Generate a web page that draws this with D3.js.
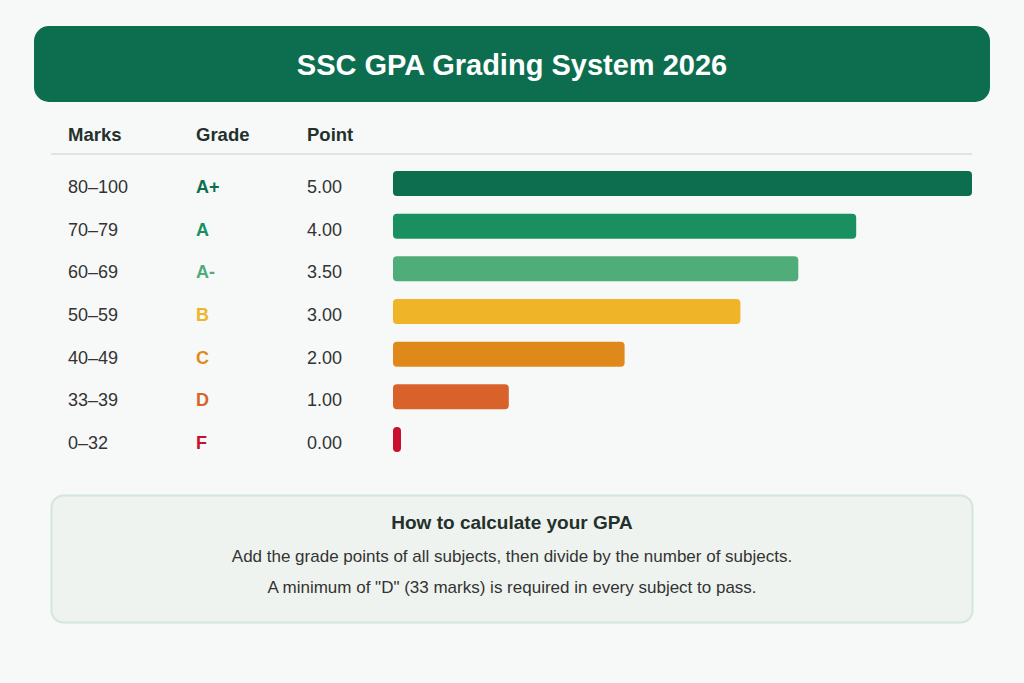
<!doctype html>
<html>
<head>
<script src="https://d3js.org/d3.v7.min.js"></script>
<style>
body { margin: 0; background: #f7f9f8; }
svg { display: block; font-family: "Liberation Sans", Arial, sans-serif; }
</style>
</head>
<body>
<script type="text/javascript">
var width = 1024;
var height = 683;

// table data
var marks = ["80–100", "70–79", "60–69", "50–59", "40–49", "33–39", "0–32"];
var grades = ["A+", "A", "A-", "B", "C", "D", "F"];
var points = [5.00, 4.00, 3.50, 3.00, 2.00, 1.00, 0.00];
var colors = ["#0d6e4f", "#1a9060", "#4fad7a", "#f0b429", "#e0891b", "#d9622b", "#c8102e"];
var headers = ["Marks", "Grade", "Point"];
var notes = ["Add the grade points of all subjects, then divide by the number of subjects.",
             "A minimum of \"D\" (33 marks) is required in every subject to pass."];

var rows = marks.map(function (m, i) {
    return {marks: m, grade: grades[i], point: points[i], color: colors[i]};
});

var svg = d3.select("body").append("svg")
    .attr("width", width)
    .attr("height", height);

svg.append("rect")
    .attr("width", width).attr("height", height)
    .attr("fill", "#f7f9f8");

// title banner
svg.append("rect")
    .attr("x", 34).attr("y", 26)
    .attr("width", 956).attr("height", 76)
    .attr("rx", 15)
    .attr("fill", "#0d6e4f");

svg.append("text")
    .attr("x", 512).attr("y", 75)
    .attr("text-anchor", "middle")
    .attr("fill", "#fff")
    .attr("font-size", 29)
    .attr("font-weight", "bold")
    .text("SSC GPA Grading System 2026");

// column headers
var colX = [68, 196, 307];
svg.selectAll(".head")
    .data(headers)
    .enter()
    .append("text")
    .attr("x", function (d, i) { return colX[i]; })
    .attr("y", 141)
    .attr("font-size", 18.5)
    .attr("font-weight", "bold")
    .attr("fill", "#24302b")
    .text(function (d) { return d; });

svg.append("line")
    .attr("x1", 51).attr("x2", 972)
    .attr("y1", 154).attr("y2", 154)
    .attr("stroke", "#dde5e1")
    .attr("stroke-width", 2);

// scales
var x = d3.scaleLinear().domain([0, 5]).range([393, 972]);
var y = d3.scaleBand().domain(marks).range([171, 452])
    .paddingInner(0.414).paddingOuter(0);

var row = svg.selectAll(".row")
    .data(rows)
    .enter()
    .append("g")
    .attr("transform", function (d) { return "translate(0," + y(d.marks) + ")"; });

var bh = y.bandwidth();

row.append("rect")
    .attr("x", x(0))
    .attr("y", 0)
    .attr("height", bh)
    .attr("width", function (d) { return Math.max(8, x(d.point) - x(0)); })
    .attr("rx", 4)
    .attr("fill", function (d) { return d.color; });

row.append("text")
    .attr("x", colX[0]).attr("y", bh / 2 + 9.5)
    .attr("font-size", 18)
    .attr("fill", "#333")
    .text(function (d) { return d.marks; });

row.append("text")
    .attr("x", colX[1]).attr("y", bh / 2 + 9.5)
    .attr("font-size", 18)
    .attr("font-weight", "bold")
    .attr("fill", function (d) { return d.color; })
    .text(function (d) { return d.grade; });

row.append("text")
    .attr("x", colX[2]).attr("y", bh / 2 + 9.5)
    .attr("font-size", 18)
    .attr("fill", "#333")
    .text(function (d) { return d.point.toFixed(2); });

// note box
svg.append("rect")
    .attr("x", 51.5).attr("y", 495.5)
    .attr("width", 921).attr("height", 127)
    .attr("rx", 12)
    .attr("fill", "#eef3ef")
    .attr("stroke", "#d4e6dc")
    .attr("stroke-width", 2);

svg.append("text")
    .attr("x", 512).attr("y", 529)
    .attr("text-anchor", "middle")
    .attr("font-size", 19)
    .attr("font-weight", "bold")
    .attr("fill", "#24302b")
    .text("How to calculate your GPA");

svg.selectAll(".note")
    .data(notes)
    .enter()
    .append("text")
    .attr("x", 512)
    .attr("y", function (d, i) { return 562 + i * 31; })
    .attr("text-anchor", "middle")
    .attr("font-size", 17)
    .attr("fill", "#333")
    .text(function (d) { return d; });
</script>
</body>
</html>
